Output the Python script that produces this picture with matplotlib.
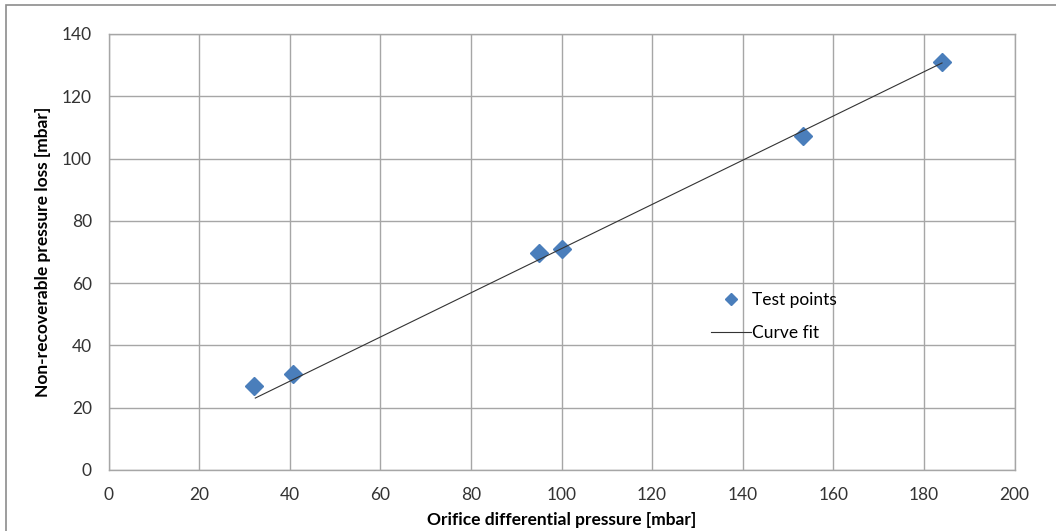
import matplotlib
matplotlib.use("Agg")
import matplotlib.pyplot as plt
from matplotlib.patches import Rectangle

plt.rcParams['font.family'] = ['Lato', 'DejaVu Sans']

# Data
test_x = [32.2, 40.8, 95.1, 100.1, 153.4, 184.0]
test_y = [27.1, 30.7, 69.7, 71.0, 107.2, 131.0]
fit_x = [32.4, 184.0]
fit_y = [23.1, 130.7]

x_ticks = [0, 20, 40, 60, 80, 100, 120, 140, 160, 180, 200]
y_ticks = [0, 20, 40, 60, 80, 100, 120, 140]

W, H = 1056, 531
fig = plt.figure(figsize=(W / 100, H / 100), dpi=100)
ax = fig.add_axes([108.5 / W, 1 - 470 / H, (1014.5 - 108.5) / W, (470 - 34) / H])

grid_c = '#A6A6A6'
ax.set_xlim(0, 200)
ax.set_ylim(0, 140)
ax.set_xticks(x_ticks)
ax.set_yticks(y_ticks)
ax.grid(True, color=grid_c, linewidth=1.0)
ax.set_axisbelow(True)
for s in ax.spines.values():
    s.set_color(grid_c)
    s.set_linewidth(1.0)
ax.tick_params(length=0, labelsize=12.5, colors='#333333')
ax.tick_params(axis='x', pad=12)
ax.tick_params(axis='y', pad=12)

ax.plot(test_x, test_y, linestyle='none', marker='D', markersize=9.5,
        color='#4A7EBB', label='Test points', zorder=3)
ax.plot(fit_x, fit_y, color='#333333', linewidth=0.8, label='Curve fit', zorder=4)

ax.set_xlabel('Orifice differential pressure [mbar]', fontsize=12.5,
              fontweight='bold', labelpad=7)
ax.set_ylabel('Non-recoverable pressure loss [mbar]', fontsize=12.5,
              fontweight='bold', labelpad=8)

leg = ax.legend(loc='upper left', bbox_to_anchor=((695 - 108.5) / (1014.5 - 108.5), (470 - 276.5) / (470 - 34)),
                frameon=False, fontsize=12.5, markerscale=0.6, handlelength=2.3,
                labelspacing=0.95, handletextpad=0.1)

fig.add_artist(Rectangle((6 / W, -0.1), 1.2, (H - 5) / H + 0.1, transform=fig.transFigure,
                         fill=False, edgecolor='#8C8C8C', linewidth=1.2))

fig.savefig('out.png', dpi=100)
